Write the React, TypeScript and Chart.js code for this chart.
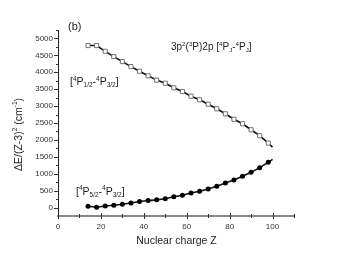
import React, { useEffect, useRef } from "react";
import { Chart, registerables } from "chart.js";

Chart.register(...registerables);

// ---- data ----
const zUpper = [14, 18, 22, 26, 30, 34, 38, 42, 46, 50, 54, 58, 62, 66, 70, 74, 78, 82, 86, 90, 94, 98, 100];
const upperVals = [4790, 4790, 4620, 4463, 4316, 4168, 4030, 3895, 3768, 3676, 3540, 3431, 3292, 3186, 3056, 2920, 2773, 2610, 2478, 2300, 2124, 1906, 1788];
const zLower = [14, 18, 22, 26, 30, 34, 38, 42, 46, 50, 54, 58, 62, 66, 70, 74, 78, 82, 86, 90, 94, 98, 100];
const lowerVals = [38, 10, 47, 68, 97, 136, 177, 206, 228, 258, 318, 363, 431, 481, 549, 628, 726, 814, 923, 1041, 1180, 1336, 1425];
const markerLastZ = 98; // markers stop here; the line runs on to Z = 100

const xMajorTicks = [0, 20, 40, 60, 80, 100];
const xMinorTicks = [10, 30, 50, 70, 90, 110];
const yMajorTicks = [0, 500, 1000, 1500, 2000, 2500, 3000, 3500, 4000, 4500, 5000];
const yMinorTicks = [250, 750, 1250, 1750, 2250, 2750, 3250, 3750, 4250, 4750, 5250];

const panelLabel = "(b)";
const xTitle = "Nuclear charge Z";

type Seg = { t: string; m?: "sup" | "sub" };
const yTitleSegs: Seg[] = [
  { t: "\u0394E/(Z-3)" }, { t: "2", m: "sup" }, { t: " (cm" }, { t: "-1", m: "sup" }, { t: ")" },
];
const titleSegs: Seg[] = [
  { t: "3p" }, { t: "2", m: "sup" }, { t: "(" }, { t: "3", m: "sup" }, { t: "P)2p [" },
  { t: "4", m: "sup" }, { t: "P" }, { t: "J", m: "sub" }, { t: "-" }, { t: "4", m: "sup" }, { t: "P" }, { t: "J", m: "sub" }, { t: "]" },
];
const upperLabelSegs: Seg[] = [
  { t: "[" }, { t: "4", m: "sup" }, { t: "P" }, { t: "1/2", m: "sub" }, { t: "-" },
  { t: "4", m: "sup" }, { t: "P" }, { t: "3/2", m: "sub" }, { t: "]" },
];
const lowerLabelSegs: Seg[] = [
  { t: "[" }, { t: "4", m: "sup" }, { t: "P" }, { t: "5/2", m: "sub" }, { t: "-" },
  { t: "4", m: "sup" }, { t: "P" }, { t: "3/2", m: "sub" }, { t: "]" },
];

const FONT = "'Liberation Sans', Arial, sans-serif";

function drawRich(ctx: CanvasRenderingContext2D, segs: Seg[], x: number, y: number, size: number, align: "left" | "center") {
  const small = size * 0.62;
  const widths = segs.map((s) => {
    ctx.font = `${s.m ? small : size}px ${FONT}`;
    return ctx.measureText(s.t).width;
  });
  const total = widths.reduce((a, b) => a + b, 0);
  let cx = align === "center" ? x - total / 2 : x;
  ctx.textAlign = "left";
  ctx.textBaseline = "alphabetic";
  segs.forEach((s, i) => {
    ctx.font = `${s.m ? small : size}px ${FONT}`;
    const dy = s.m === "sup" ? -size * 0.4 : s.m === "sub" ? size * 0.22 : 0;
    ctx.fillText(s.t, cx, y + dy);
    cx += widths[i];
  });
}

const decorPlugin = {
  id: "decor",
  afterDraw(chart: any) {
    const ctx: CanvasRenderingContext2D = chart.ctx;
    const xs = chart.scales.x;
    const ys = chart.scales.y;
    const area = chart.chartArea;
    ctx.save();
    // tick marks
    ctx.strokeStyle = "#333";
    ctx.lineWidth = 1;
    ctx.beginPath();
    yMajorTicks.forEach((v) => {
      const p = Math.round(ys.getPixelForValue(v)) + 0.5;
      ctx.moveTo(area.left - 4, p);
      ctx.lineTo(area.left, p);
    });
    yMinorTicks.forEach((v) => {
      const p = Math.round(ys.getPixelForValue(v)) + 0.5;
      ctx.moveTo(area.left - 2, p);
      ctx.lineTo(area.left, p);
    });
    xMajorTicks.forEach((v) => {
      const p = Math.round(xs.getPixelForValue(v)) + 0.5;
      ctx.moveTo(p, area.bottom - 3);
      ctx.lineTo(p, area.bottom + 3);
    });
    xMinorTicks.forEach((v) => {
      const p = Math.round(xs.getPixelForValue(v)) + 0.5;
      ctx.moveTo(p, area.bottom - 2);
      ctx.lineTo(p, area.bottom + 2);
    });
    ctx.stroke();

    ctx.fillStyle = "#222";
    ctx.font = `11px ${FONT}`;
    ctx.textAlign = "left";
    ctx.fillText(panelLabel, 68, 30);

    ctx.font = `10.5px ${FONT}`;
    ctx.textAlign = "center";
    ctx.fillText(xTitle, 176.5, 244);

    drawRich(ctx, titleSegs, 171, 50, 10, "left");
    drawRich(ctx, upperLabelSegs, 70, 85, 10.5, "left");
    drawRich(ctx, lowerLabelSegs, 76, 194.5, 10.5, "left");

    ctx.save();
    ctx.translate(21.5, 134.5);
    ctx.rotate(-Math.PI / 2);
    drawRich(ctx, yTitleSegs, 0, 0, 10.5, "center");
    ctx.restore();

    ctx.restore();
  },
};

export default function App() {
  const ref = useRef<HTMLCanvasElement | null>(null);
  useEffect(() => {
    if (!ref.current) return;
    const upperData = zUpper.map((z, i) => ({ x: z, y: upperVals[i] }));
    const lowerData = zLower.map((z, i) => ({ x: z, y: lowerVals[i] }));
    const chart = new Chart(ref.current, {
      type: "scatter",
      data: {
        datasets: [
          {
            data: upperData,
            showLine: true,
            borderColor: "#111",
            borderWidth: 1.6,
            pointStyle: "rect",
            pointRadius: (c: any) => (c.raw && c.raw.x > markerLastZ ? 0 : 2.9),
            pointBackgroundColor: "#fff",
            pointBorderColor: "#666",
            pointBorderWidth: 0.9,
            order: 1,
          },
          {
            data: lowerData,
            showLine: true,
            borderColor: "#111",
            borderWidth: 1.6,
            pointStyle: "circle",
            pointRadius: (c: any) => (c.raw && c.raw.x > markerLastZ ? 0 : 2.5),
            pointBackgroundColor: "#000",
            pointBorderColor: "#000",
            pointBorderWidth: 0,
            order: 2,
          },
        ],
      },
      options: {
        animation: false,
        responsive: false,
        layout: { padding: { top: 30, right: 48, left: 0, bottom: 0 } },
        plugins: { legend: { display: false }, tooltip: { enabled: false } },
        scales: {
          x: {
            type: "linear",
            min: 0,
            max: 110,
            grid: { display: false, drawTicks: false },
            border: { display: true, color: "#888", width: 2 },
            ticks: { padding: 6, color: "#333", font: { size: 8, family: FONT }, callback: (v: any) => String(v) },
            afterBuildTicks: (s: any) => {
              s.ticks = xMajorTicks.map((v) => ({ value: v }));
            },
            afterFit: (s: any) => {
              s.height = 46;
            },
          },
          y: {
            type: "linear",
            min: -250,
            max: 5250,
            grid: { display: false, drawTicks: false },
            border: { display: true, color: "#222", width: 1 },
            ticks: { padding: 5, color: "#333", font: { size: 8, family: FONT }, callback: (v: any) => String(v) },
            afterBuildTicks: (s: any) => {
              s.ticks = yMajorTicks.map((v) => ({ value: v }));
            },
            afterFit: (s: any) => {
              s.width = 58;
            },
          },
        },
      } as any,
      plugins: [decorPlugin],
    });
    return () => chart.destroy();
  }, []);
  return (
    <div style={{ position: "absolute", left: 0, top: 0, width: 342, height: 262, background: "#fff" }}>
      <canvas ref={ref} width={342} height={262} style={{ display: "block" }} />
    </div>
  );
}
